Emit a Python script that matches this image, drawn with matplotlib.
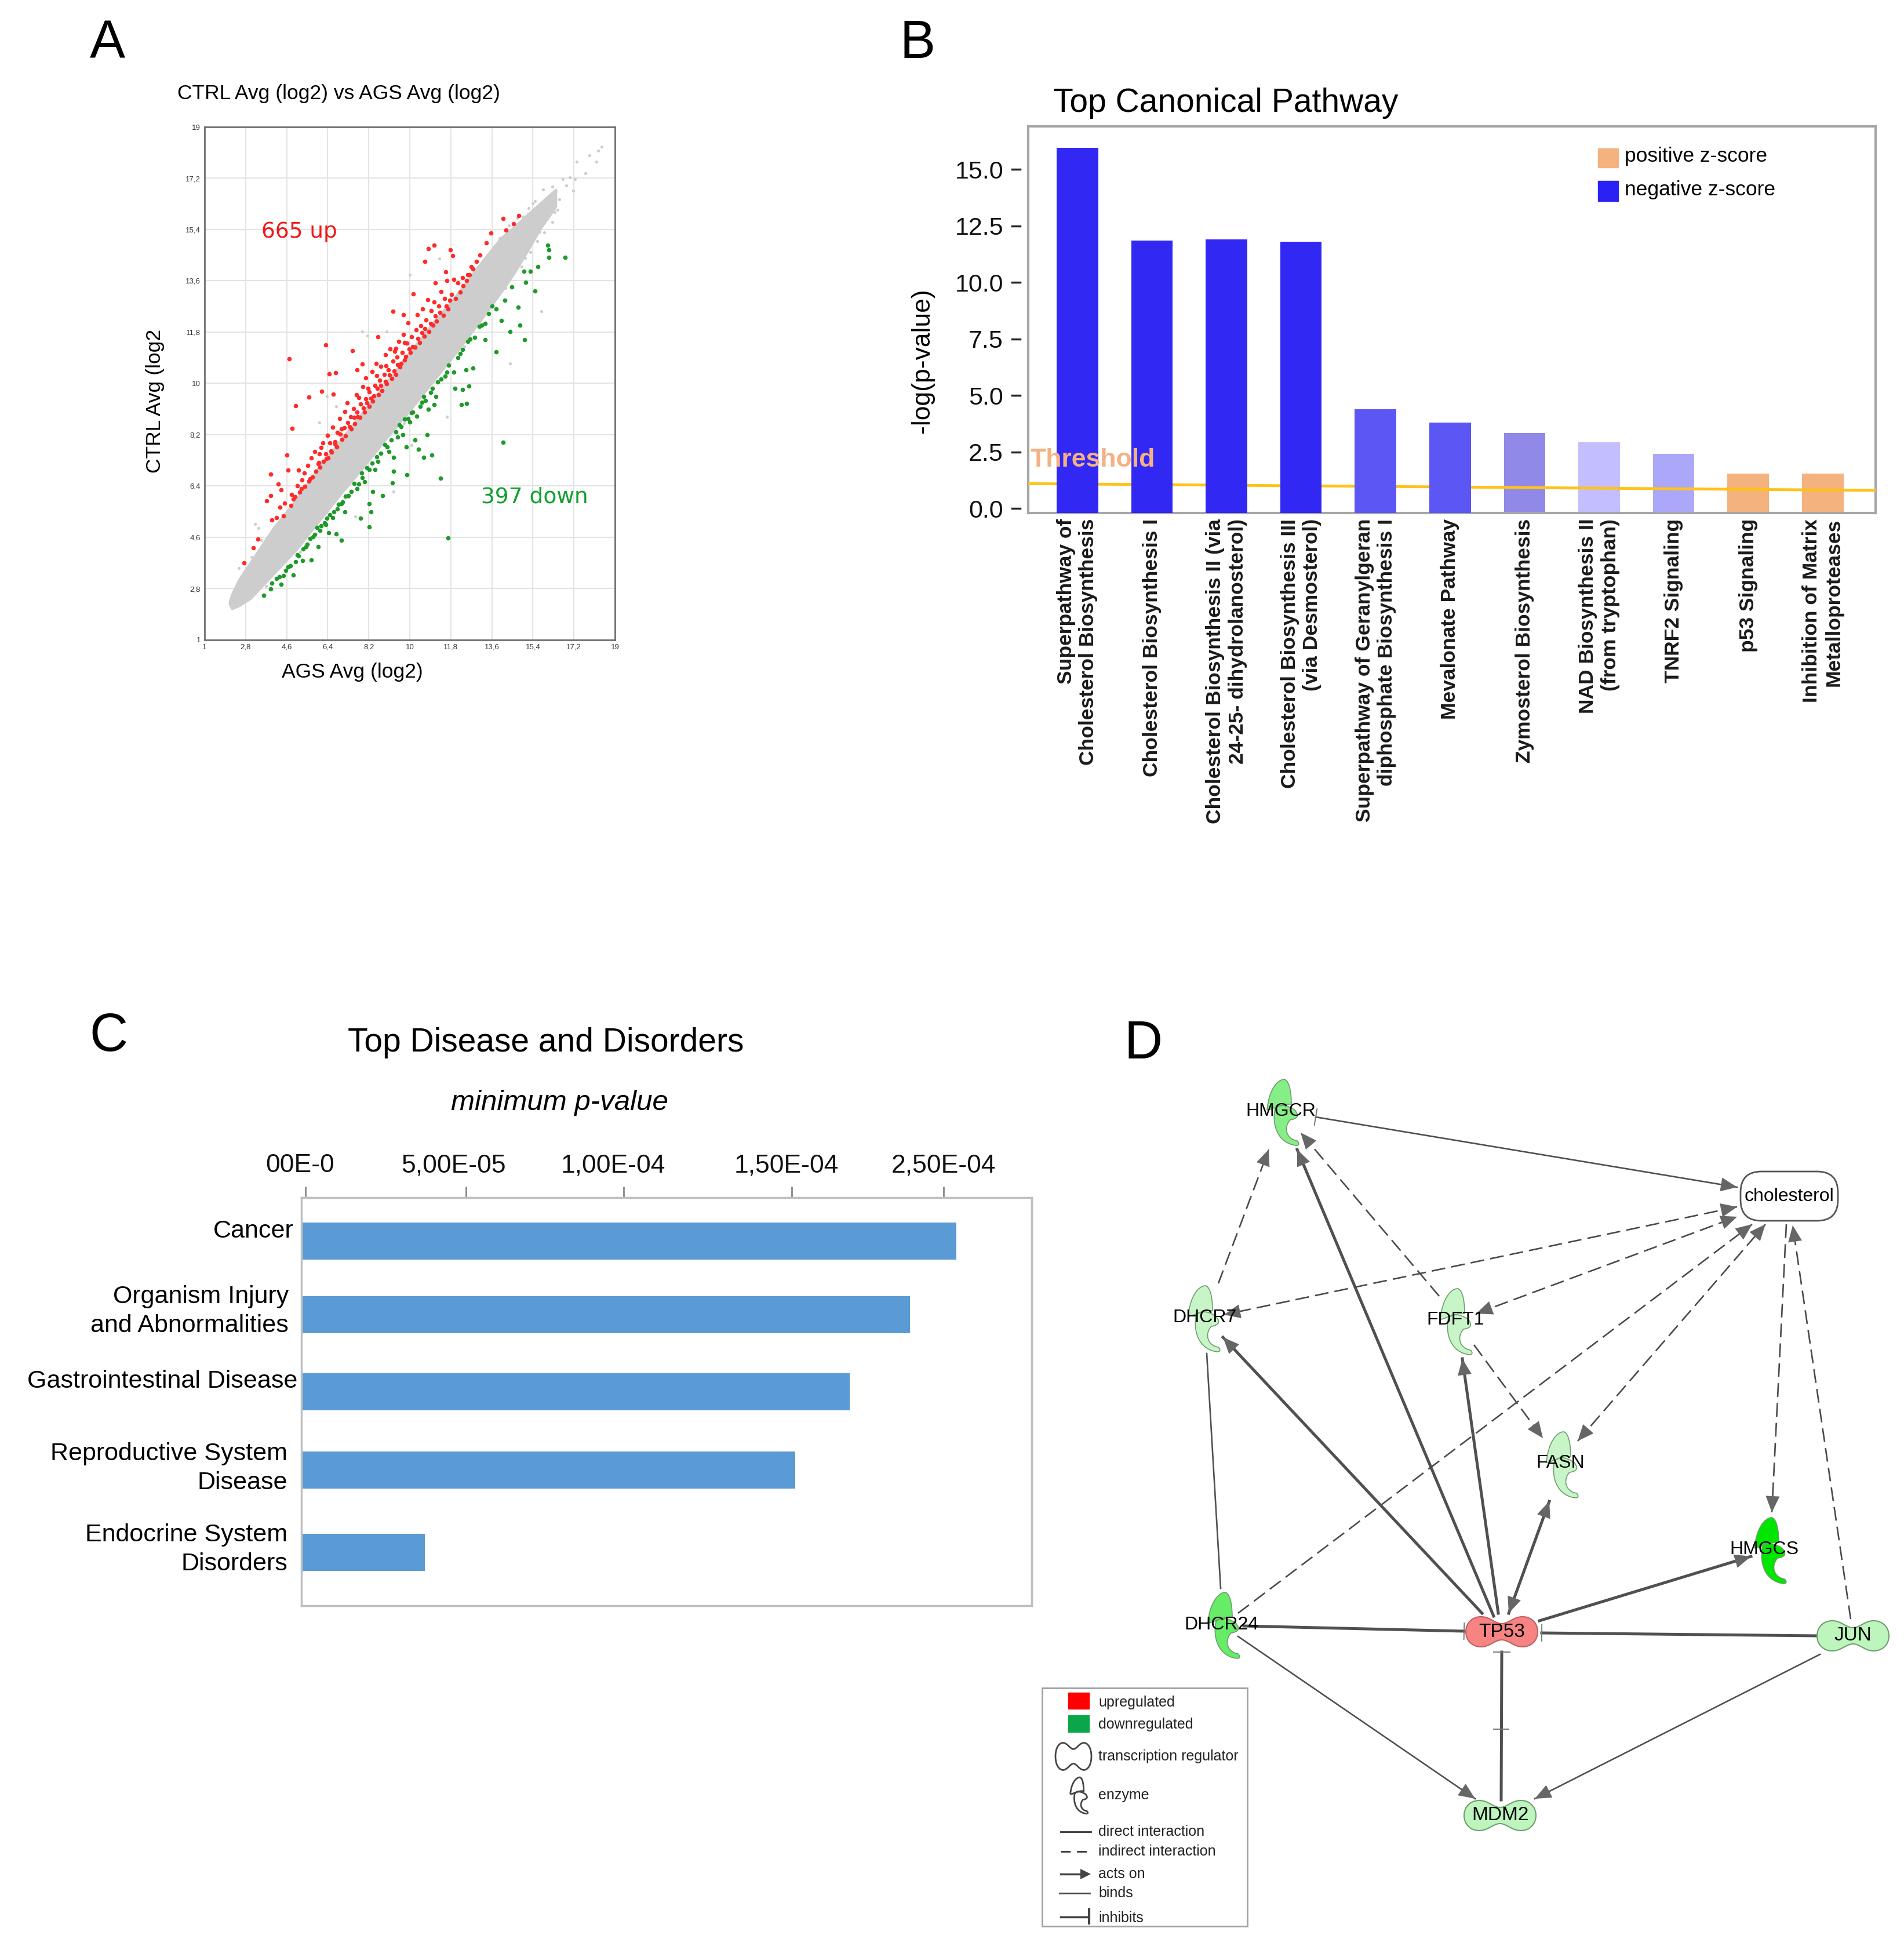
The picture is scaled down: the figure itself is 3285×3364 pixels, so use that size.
import numpy as np
import matplotlib
matplotlib.use("Agg")
import matplotlib.pyplot as plt
from matplotlib.patches import FancyBboxPatch, PathPatch, Rectangle
from matplotlib.path import Path
from matplotlib.transforms import ScaledTranslation

plt.rcParams['font.family'] = ['Liberation Sans', 'DejaVu Sans']

W, H = 3285, 3364

# Panel A: scatter
a_ticks = [1, 2.8, 4.6, 6.4, 8.2, 10, 11.8, 13.6, 15.4, 17.2, 19]
a_ticklabels = ['1', '2,8', '4,6', '6,4', '8,2', '10', '11,8', '13,6', '15,4', '17,2', '19']

band_x = [2.1, 2.2, 2.5, 3, 4, 5, 6, 7, 8, 9, 10, 11, 12, 13, 14, 14.6, 15.2, 15.7, 16.4]
band_hi = [2.35, 2.6, 3.1, 3.7, 4.9, 5.9, 7.05, 8.05, 9.05, 10.05, 11.1, 12.1, 13.05, 14.1, 15.1, 15.5, 15.95, 16.3, 16.8]
band_lo = [2.25, 2.1, 2.2, 2.45, 3.3, 4.15, 5.15, 6.15, 7.1, 8.1, 9.05, 10.05, 11.05, 12.1, 13.2, 13.9, 14.7, 15.4, 16.2]

grey_x = [18.42, 18.27, 18.19, 17.87, 17.71, 17.33, 17.25, 17.02, 16.86, 16.71, 17.17, 16.56, 16.4, 16.25, 16.17,
          15.86, 16.02, 15.78, 15.4, 16.25, 15.55, 15.7, 15.17, 15.32, 15.0, 15.78, 14.39, 11.62, 10.0, 11.3,
          7.91, 8.15, 8.99, 6.37, 6.03, 7.6, 9.3, 10.07, 6.76, 2.51, 3.2, 3.36, 16.25, 16.48, 16.02, 14.86, 15.7,
          3.05, 3.5, 2.75, 3.7, 5.2, 7.3, 9.75, 12.4, 13.4, 13.95, 14.2, 14.9, 15.05, 15.3, 15.6, 15.9, 14.35, 14.7,
          14.95, 15.2, 15.5, 16.0, 16.3, 16.35]
grey_y = [18.31, 18.16, 17.77, 18.0, 17.38, 17.77, 17.17, 17.24, 16.95, 17.17, 16.77, 16.46, 16.74, 16.91, 16.48,
          16.81, 16.1, 16.1, 16.31, 15.67, 16.03, 15.81, 15.53, 15.17, 15.39, 12.54, 10.71, 8.83, 13.82, 14.39,
          11.83, 11.68, 11.83, 9.55, 8.62, 5.34, 6.2, 7.84, 9.19, 3.52, 5.06, 4.92, 16.17, 16.1, 16.46, 15.1, 15.32,
          3.9, 4.5, 3.35, 2.9, 4.1, 6.0, 8.6, 11.3, 12.7, 15.1, 13.35, 14.1, 14.4, 14.6, 15.0, 15.3, 15.55, 15.8,
          15.85, 16.15, 16.4, 16.5, 16.2, 16.0]

red_x = [2.74, 3.13, 3.33, 3.72, 3.9, 3.9, 4.24, 4.36, 4.67, 4.6, 4.83, 4.98, 4.7, 6.32, 5.57, 6.14, 6.65, 6.46, 6.74,
         7.48, 7.91, 7.68, 8.61, 9.26, 9.72, 10.15, 10.81, 11.08, 10.65, 11.77, 11.88, 11.57, 14.09, 14.78, 14.55,
         14.21, 13.55, 13.35, 13.08, 12.7, 12.54, 12.31,
         3.95, 4.15, 4.3, 4.45, 4.52, 4.78, 4.82, 4.97, 5.08, 5.17, 5.28, 5.12, 5.41, 5.38, 5.58, 5.52, 5.73, 5.69,
         5.88, 5.83, 5.98, 6.07, 6.03, 6.22, 6.18, 6.31, 6.42, 6.39, 6.53, 6.58, 6.62, 6.73, 6.79, 6.83, 6.93, 7.03,
         7.01, 7.14, 7.17, 7.29, 7.26, 7.43, 7.41, 7.53, 7.58, 7.68, 7.66, 7.82, 7.83, 7.93, 8.02, 8.08, 8.07, 8.23,
         8.21, 8.34, 8.38, 8.48, 8.52, 8.62, 8.67, 8.72, 8.77, 8.88, 8.94, 8.98, 9.07, 9.13, 9.22, 9.27, 9.35, 9.38,
         9.43, 9.52, 9.58, 9.67, 9.73, 9.78, 9.88, 9.93, 10.02, 10.08, 10.22, 10.27, 10.33, 10.42, 10.48, 10.57,
         10.63, 10.72, 10.78, 10.83, 10.94, 11.02, 11.08, 11.13, 11.18, 11.28, 11.37, 11.47, 11.52, 11.62, 11.68,
         11.83, 11.92, 12.02, 12.12, 12.22, 12.33, 12.48, 12.62, 12.78, 12.92,
         4.9, 5.25, 5.62, 6.0, 6.33, 6.71, 6.95, 7.12, 7.35, 7.55, 7.72, 7.96, 8.13, 8.29, 8.43, 8.58, 8.74, 8.92,
         9.11, 9.31, 9.47, 9.62, 9.83, 9.97, 10.13, 10.36, 10.53, 10.67, 10.91, 11.11, 11.33, 11.59, 11.76, 6.12,
         6.48, 7.77, 8.16, 8.56, 8.96, 9.4, 9.76]
red_y = [3.71, 4.23, 4.53, 5.89, 6.06, 6.81, 6.48, 6.27, 6.95, 7.48, 8.42, 9.22, 10.87, 11.36, 9.53, 9.72, 9.62, 10.33,
         10.37, 11.14, 10.69, 10.47, 11.64, 12.54, 12.4, 13.15, 14.72, 14.85, 14.29, 14.69, 14.49, 13.92, 15.79, 15.89,
         15.6, 15.37, 15.27, 14.93, 14.5, 14.1, 13.82, 13.72,
         5.2, 5.3, 5.65, 5.35, 5.8, 5.72, 6.1, 6.02, 6.42, 6.18, 6.62, 6.95, 6.38, 6.85, 6.57, 7.12, 6.71, 7.38,
         6.92, 7.61, 7.18, 7.07, 7.52, 7.26, 7.91, 7.52, 7.38, 8.18, 7.63, 7.58, 8.47, 7.88, 7.77, 8.29, 8.76, 8.03,
         8.41, 9.02, 8.16, 8.62, 9.31, 8.41, 8.83, 9.12, 8.58, 9.0, 9.6, 8.81, 9.28, 9.88, 8.99, 9.47, 10.2, 9.19,
         9.7, 10.42, 9.38, 9.93, 10.7, 9.61, 10.12, 10.6, 9.74, 10.31, 11.0, 9.98, 10.47, 11.22, 10.18, 10.78, 11.12, 10.31,
         10.92, 11.47, 10.57, 11.08, 11.72, 10.83, 11.41, 12.12, 11.09, 11.63, 11.28, 11.88, 12.41, 11.44, 12.02, 12.62,
         11.66, 12.22, 12.93, 11.83, 12.55, 12.04, 12.86, 13.52, 12.18, 12.72, 13.22, 12.38, 12.98, 13.62, 12.62,
         13.12, 13.66, 12.98, 13.52, 13.2, 13.42, 13.62, 13.82, 14.02, 14.28,
         5.95, 6.3, 6.66, 7.22, 7.37, 7.95, 8.22, 8.44, 8.48, 8.81, 8.84, 9.14, 9.31, 9.48, 9.57, 9.83, 9.92, 10.08,
         10.29, 10.44, 10.66, 10.71, 10.95, 11.22, 11.29, 11.58, 11.77, 11.92, 12.1, 12.37, 12.49, 12.72, 12.91, 7.75,
         7.92, 9.51, 9.82, 10.27, 10.63, 11.24, 11.43]

green_x = [3.59, 3.9, 4.36, 4.9, 5.68, 6.99, 6.76, 8.22, 8.3, 8.22, 7.84, 11.69, 11.34, 14.09, 9.87, 9.23, 8.81, 9.3,
           10.61, 10.97, 10.38, 10.77, 10.23, 9.84, 12.27, 12.5, 12.59, 12.31, 11.99, 13.78, 15.04, 14.83, 14.75, 14.16,
           15.48, 15.09, 15.01, 15.29, 15.63, 16.06, 16.09, 16.09, 16.82, 13.31, 13.78, 14.47, 14.01, 14.39, 13.31, 12.85,
           12.54, 12.31, 12.77, 12.47, 11.62, 11.23, 10.92, 11.08, 10.54, 10.07, 9.92, 9.61, 9.46, 9.0, 8.61, 8.22, 7.91,
           7.76, 7.3, 6.99, 6.68, 6.37, 6.06, 5.75, 5.44, 5.06, 4.67, 4.29, 9.3, 7.15, 8.38, 6.45, 5.98, 5.29, 11.54,
           13.16, 11.93, 10.69,
           4.55, 4.75, 4.98, 5.12, 5.33, 5.5, 5.62, 5.82, 5.93, 6.1, 6.25, 6.32, 6.5, 6.62, 6.82, 6.88, 7.05, 7.18, 7.42,
           7.55, 7.68, 7.9, 8.02, 8.12, 8.35, 8.48, 8.55, 8.72, 8.9, 9.08, 9.18, 9.38, 9.55, 9.7, 9.78, 10.0, 10.12, 10.3,
           10.45, 10.62, 10.82, 11.0, 11.15, 11.38, 11.7, 12.1, 12.22, 12.65, 13.05, 13.45, 13.62, 3.95, 4.15, 4.45]
green_y = [2.57, 2.78, 2.95, 3.28, 3.81, 4.49, 4.73, 4.96, 5.49, 5.77, 5.27, 4.58, 6.67, 7.94, 6.8, 6.51, 6.06, 6.91,
           7.41, 7.48, 7.7, 8.19, 8.02, 7.77, 9.25, 9.29, 9.9, 9.79, 9.83, 11.1, 11.54, 12.04, 12.68, 12.92,
           13.25, 13.54, 13.93, 13.93, 14.1, 14.86, 14.68, 14.43, 14.42, 12.11, 12.61, 13.39, 12.21, 11.83, 11.54, 11.61,
           11.47, 11.18, 10.54, 10.47, 10.4, 10.05, 9.69, 9.26, 9.33, 8.98, 8.76, 8.48, 8.12, 7.77, 7.27, 6.98, 6.7,
           6.48, 6.06, 5.77, 5.49, 5.27, 4.85, 4.63, 4.28, 3.99, 3.56, 3.21, 7.41, 5.49, 6.2, 4.77, 4.28, 3.78, 10.26,
           12.04, 10.4, 9.4,
           3.45, 3.6, 3.75, 3.95, 4.2, 4.35, 4.55, 4.7, 4.95, 5.0, 5.1, 5.05, 5.4, 5.3, 5.6, 5.75, 5.85, 6.05, 6.2,
           6.5, 6.3, 6.85, 6.55, 7.05, 7.2, 6.98, 7.42, 7.55, 7.85, 7.62, 8.02, 8.3, 8.55, 8.2, 8.75, 8.65, 9.0, 8.85,
           9.2, 9.55, 9.1, 9.82, 9.55, 10.15, 10.65, 10.9, 11.05, 11.55, 12.0, 12.45, 12.72, 3.0, 3.15, 3.25]

# Panel B
pathways = ['Superpathway of\nCholesterol Biosynthesis', 'Cholesterol Biosynthesis I',
            'Cholesterol Biosynthesis II (via\n24-25- dihydrolanosterol)',
            'Cholesterol Biosynthesis III\n(via Desmosterol)',
            'Superpathway of Geranylgeran\ndiphosphate Biosynthesis I', 'Mevalonate Pathway',
            'Zymosterol Biosynthesis', 'NAD Biosynthesis II\n(from tryptophan)', 'TNRF2 Signaling',
            'p53 Signaling', 'Inhibition of Matrix\nMetalloproteases']
pathway_logp = [15.95, 11.86, 11.9, 11.8, 4.4, 3.8, 3.34, 2.92, 2.41, 1.55, 1.55]
pathway_colors = ['#3228F3', '#3228F3', '#3228F3', '#3228F3', '#5C56F5', '#5C56F5', '#9189E8', '#C3BFFE', '#ABA8FA',
                  '#F4B27E', '#F4B27E']
threshold_ends = [1.1, 0.8]

# Panel C
diseases = ['Cancer', 'Organism Injury\nand Abnormalities', 'Gastrointestinal Disease',
            'Reproductive System\nDisease', 'Endocrine System\nDisorders']
disease_rows = [0, 0.944, 1.936, 2.944, 4.0]
disease_p = [205.5e-6, 191e-6, 172e-6, 155e-6, 38.7e-6]
c_ticks = [0, 50.4e-6, 100e-6, 152.7e-6, 200.4e-6]
c_ticklabels = ['00E-0', '5,00E-05', '1,00E-04', '1,50E-04', '2,50E-04']

# Panel D network, figure pixels
enzymes = ['HMGCR', 'DHCR7', 'FDFT1', 'FASN', 'HMGCS', 'DHCR24']
enzyme_xy = [(2214, 1920), (2078, 2276), (2513, 2281), (2696, 2528), (3055, 2676), (2112, 2805)]
enzyme_label_xy = [(2210, 1917), (2078, 2273), (2511, 2277), (2692, 2524), (3044, 2673), (2108, 2803)]
enzyme_colors = ['#86EE86', '#C8F5C8', '#C8F5C8', '#C8F5C8', '#00E600', '#66EC66']
regulators = ['TP53', 'JUN', 'MDM2']
regulator_xy = [(2591, 2815), (3197, 2822), (2588, 3132)]
regulator_colors = ['#F88383', '#BDF5BD', '#BDF5BD']

edge_from = [(2270, 1927), (2102, 2214), (2577, 2788), (2483, 2236), (2997, 2082), (2547, 2266), (2136, 2783),
             (2722, 2486), (2543, 2320), (2557, 2783), (2585, 2783), (2603, 2783), (2656, 2796), (2146, 2805),
             (3136, 2822), (2590, 3105), (2082, 2335), (2136, 2823), (3140, 2854), (3082, 2112), (3193, 2793)]
edge_to = [(2997, 2048), (2189, 1983), (2238, 1983), (2244, 1954), (2112, 2268), (2997, 2099), (3023, 2112),
           (3046, 2112), (2662, 2481), (2110, 2307), (2523, 2344), (2673, 2590), (3021, 2685), (2526, 2814),
           (2660, 2817), (2591, 2850), (2106, 2740), (2545, 3103), (2648, 3103), (3057, 2609), (3093, 2114)]
edge_line = ['thin', 'dash', 'thick', 'dash', 'dash', 'dash', 'dash', 'dash', 'dash', 'thick', 'thick', 'thick',
             'thick', 'thick', 'thick', 'thick', 'thin', 'thin', 'thin', 'dash', 'dash']
edge_ends = ['barstart', 'end', 'end', 'end', 'both', 'both', 'end', 'both', 'end', 'end', 'end', 'both', 'end',
             'bar', 'bar', 'bar', 'none', 'end', 'end', 'end', 'end']

legend_labels = ['upregulated', 'downregulated', 'transcription regulator', 'enzyme', 'direct interaction',
                 'indirect interaction', 'acts on', 'binds', 'inhibits']
legend_rows = [2937, 2975, 3030, 3097, 3160, 3194, 3233, 3266, 3309]


def add_ax(left, top, right, bottom):
    return fig.add_axes([left / W, 1 - bottom / H, (right - left) / W, (bottom - top) / H])


def enzyme_shape(cx, cy, face, edge='#6E9E6E', k=1.0, lw=1.2):
    cap = [(-28, -5), (-25, -40), (-10, -58), (2, -58), (12, -55), (14, -30), (14, -15), (-8, -16), (-16, -6), (-28, -5)]
    hook = [(-14, -8), (-20, 20), (-10, 52), (22, 56), (28, 56), (28, 52), (24, 48), (5, 45), (0, 25), (12, 12),
            (25, 10), (28, 5), (20, -5), (5, -15), (-5, -15), (-14, -8)]
    for pts in (cap, hook):
        codes = [Path.MOVETO] + [Path.CURVE4] * (len(pts) - 1)
        verts = [(cx + k * x, cy + k * y) for x, y in pts]
        ov.add_patch(PathPatch(Path(verts, codes), fc=face, ec=edge, lw=lw, zorder=3))


def regulator_shape(cx, cy, face, edge='#6E9E6E', k=1.0, ky=1.0, lw=1.5):
    pts = [(-62, 0), (-62, -16), (-50, -26), (-36, -26), (-20, -26), (-12, -14), (0, -14), (12, -14), (20, -26), (36, -26),
           (50, -26), (62, -16), (62, 0), (62, 16), (50, 26), (36, 26), (20, 26), (12, 14), (0, 14), (-12, 14),
           (-20, 26), (-36, 26), (-50, 26), (-62, 16), (-62, 0)]
    codes = [Path.MOVETO] + [Path.CURVE4] * (len(pts) - 1)
    verts = [(cx + k * x, cy + ky * y) for x, y in pts]
    ov.add_patch(PathPatch(Path(verts, codes), fc=face, ec=edge, lw=lw, zorder=3))


def head(p, q, size=28, width=12):
    # filled triangle with its tip on q
    p, q = np.array(p, float), np.array(q, float)
    d = (q - p) / np.hypot(*(q - p))
    n = np.array([-d[1], d[0]])
    tri = np.array([q, q - size * d + width * n, q - size * d - width * n])
    ov.fill(tri[:, 0], tri[:, 1], color='#666666', zorder=2.5, lw=0)


def bar(p, q, half=14):
    p, q = np.array(p, float), np.array(q, float)
    d = (q - p) / np.hypot(*(q - p))
    n = np.array([-d[1], d[0]])
    a, b = q + half * n, q - half * n
    ov.plot([a[0], b[0]], [a[1], b[1]], color='#777777', lw=1.4, zorder=2.5)


fig = plt.figure(figsize=(W / 100, H / 100), dpi=100, facecolor='white')

# ---- A
ax = add_ax(353, 219, 1061, 1104)
ax.set_xlim(1, 19)
ax.set_ylim(1, 19)
ax.grid(True, color='#E4E4E4', lw=1.5)
ax.set_axisbelow(True)
ax.fill_between(band_x, band_lo, band_hi, color='#CDCDCD', lw=3, zorder=2)
ax.scatter(grey_x, grey_y, s=14, color='#CDCDCD', lw=0, zorder=2)
ax.scatter(red_x, red_y, s=30, color='#FF2B2B', lw=0, zorder=3)
ax.scatter(green_x, green_y, s=30, color='#1F9A2A', lw=0, zorder=3)
ax.set_xticks(a_ticks, a_ticklabels, fontsize=9.5)
ax.set_yticks(a_ticks, a_ticklabels, fontsize=9.5)
ax.tick_params(length=0, pad=5, labelcolor='#333333')
for s in ax.spines.values():
    s.set_color('#707070')
    s.set_linewidth(2)

# ---- B
ax = add_ax(1774, 218, 3236, 885)
ax.set_xlim(-0.66, 10.71)
ax.set_ylim(-0.2, 16.9)
x_pos = np.arange(len(pathways))
dark = 6
ax.bar(x_pos[dark:], np.array(pathway_logp[dark:]) + 0.2, width=0.557, bottom=-0.2, color=pathway_colors[dark:], zorder=2)
ax.plot([-0.66, 10.71], threshold_ends, color='#FFC21A', lw=3.5, zorder=3)
ax.bar(x_pos[:dark], np.array(pathway_logp[:dark]) + 0.2, width=0.557, bottom=-0.2, color=pathway_colors[:dark], zorder=4)
ax.text(-0.63, 2.15, 'Threshold', color='#F4B183', fontsize=32, fontweight='bold', va='center', zorder=5)
ax.set_xticks(x_pos, pathways, rotation=90, fontsize=25.5, fontweight='bold', ha='center', va='top', ma='right')
ax.tick_params(axis='x', length=0, pad=7, labelcolor='#1A1A1A')
b_ticks = [0, 2.5, 5, 7.5, 10, 12.5, 15]
ax.set_yticks(b_ticks, ['%.1f' % v for v in b_ticks], fontsize=31)
ax.tick_params(axis='y', length=0, pad=31, labelcolor='#111111')
for v in b_ticks:
    ax.plot([-0.019, -0.0097], [v, v], color='#222222', lw=2.5, transform=ax.get_yaxis_transform(), clip_on=False)
for s in ax.spines.values():
    s.set_color('#A6A6A6')
    s.set_linewidth(3)

# ---- C
ax = add_ax(520, 2066, 1780, 2770)
ax.set_xlim(-1.2e-6, 228e-6)
ax.set_ylim(4.688, -0.56)
ax.barh(disease_rows, disease_p, left=-1.2e-6, height=0.48, color='#5B9BD5')
ax.set_xticks(c_ticks, c_ticklabels, fontsize=32)
ax.xaxis.tick_top()
ax.tick_params(axis='x', length=14, width=2, color='#888888', pad=11, labelcolor='#111111')
ax.set_yticks([])
for lab, shift in zip(ax.get_xticklabels(), [-9, -21, -19, -9, 0]):
    lab.set_transform(lab.get_transform() + ScaledTranslation(shift / 100, 0, fig.dpi_scale_trans))
for s in ax.spines.values():
    s.set_color('#BFBFBF')
    s.set_linewidth(2.5)

# ---- overlay in figure pixels
ov = fig.add_axes([0, 0, 1, 1], zorder=10)
ov.set_xlim(0, W)
ov.set_ylim(H, 0)
ov.axis('off')
ov.patch.set_alpha(0)

for s, x, y in [('A', 185, 76), ('B', 1583, 76), ('C', 187, 1789), ('D', 1973, 1802)]:
    ov.text(x, y, s, fontsize=66, ha='center', va='center', color='black')

# A texts
ov.text(584, 161, 'CTRL Avg (log2) vs AGS Avg (log2)', fontsize=25.5, ha='center', va='center')
ov.text(268, 692, 'CTRL Avg (log2', fontsize=25.5, rotation=90, ha='center', va='center')
ov.text(608, 1160, 'AGS Avg (log2)', fontsize=25.5, ha='center', va='center')
ov.text(516, 400, '665 up', fontsize=27, family='DejaVu Sans', color='#F01818', ha='center', va='center')
ov.text(922, 857, '397 down', fontsize=27, family='DejaVu Sans', color='#10A030', ha='center', va='center')

# B texts
ov.text(2115, 178, 'Top Canonical Pathway', fontsize=41, ha='center', va='center')
ov.text(1592, 622, '-log(p-value)', fontsize=32, rotation=90, ha='center', va='center')
ov.add_patch(Rectangle((2757, 256), 35, 33, color='#F4B27E'))
ov.add_patch(Rectangle((2757, 312), 35, 35, color='#2A22F5'))
ov.text(2803, 269, 'positive z-score', fontsize=25.5, va='center')
ov.text(2803, 327, 'negative z-score', fontsize=25.5, va='center')

# C texts
ov.text(942, 1799, 'Top Disease and Disorders', fontsize=41, ha='center', va='center')
ov.text(965, 1902, 'minimum p-value', fontsize=35.5, style='italic', ha='center', va='center')
for name, right, y in zip(diseases, [507, 498, 513, 496, 496], [2124, 2262, 2383, 2533, 2673]):
    ov.text(right, y, name, fontsize=31, ha='right', va='center', ma='right', linespacing=1.35)

# D network
for p, q, kind, ends in zip(edge_from, edge_to, edge_line, edge_ends):
    if kind == 'dash':
        ov.plot([p[0], q[0]], [p[1], q[1]], color='#4A4A4A', lw=1.9, ls=(0, (9, 4)), zorder=2)
    else:
        ov.plot([p[0], q[0]], [p[1], q[1]], color='#505050', lw=3.6 if kind == 'thick' else 1.9, zorder=2)
    if ends in ('end', 'both', 'barstart'):
        head(p, q)
    if ends == 'both':
        head(q, p)
    if ends == 'bar':
        bar(p, q)
    if ends == 'barstart':
        bar(q, p)
ov.plot([2577, 2603], [2983, 2983], color='#777777', lw=1.4, zorder=2.5)

for name, xy, lxy, col in zip(enzymes, enzyme_xy, enzyme_label_xy, enzyme_colors):
    enzyme_shape(xy[0], xy[1], col)
    ov.text(lxy[0], lxy[1], name, fontsize=23, ha='center', va='center', zorder=5)
for name, xy, col in zip(regulators, regulator_xy, regulator_colors):
    regulator_shape(xy[0], xy[1], col, edge='#C06060' if name == 'TP53' else '#6E9E6E')
    ov.text(xy[0], xy[1], name, fontsize=24, ha='center', va='center', zorder=5)
ov.add_patch(FancyBboxPatch((3003, 2021), 168, 85, boxstyle='round,pad=0,rounding_size=36', fc='white', ec='#555555', lw=2, zorder=3))
ov.text(3087, 2064, 'cholesterol', fontsize=23, ha='center', va='center', zorder=5)

# D legend
ov.add_patch(Rectangle((1798, 2912), 354, 411, fc='white', ec='#A0A0A0', lw=2, zorder=1))
ov.add_patch(Rectangle((1843, 2920), 36, 28, color='#FF0000', zorder=3))
ov.add_patch(Rectangle((1843, 2959), 36, 29, color='#0BA54A', zorder=3))
regulator_shape(1852, 3030, 'white', edge='#444444', k=0.5, ky=0.9, lw=2)
enzyme_shape(1862, 3098, 'white', edge='#444444', k=0.55, lw=2)
ov.plot([1830, 1882], [3160, 3160], color='#333333', lw=2, zorder=3)
ov.plot([1830, 1882], [3194, 3194], color='#333333', lw=2, ls=(0, (6, 4)), zorder=3)
ov.plot([1830, 1872], [3233, 3233], color='#444444', lw=2.5, zorder=3)
ov.fill([1882, 1864, 1864], [3233, 3224, 3242], color='#444444', lw=0, zorder=3)
ov.plot([1828, 1880], [3266, 3266], color='#444444', lw=2, zorder=3)
ov.plot([1830, 1878], [3307, 3307], color='#444444', lw=2.5, zorder=3)
ov.plot([1879, 1879], [3294, 3318], color='#444444', lw=3, zorder=3)
for label, row in zip(legend_labels, legend_rows):
    ov.text(1895, row, label, fontsize=18, ha='left', va='center', color='#222222', zorder=4)

fig.savefig('out.png', dpi=100, facecolor='white')
